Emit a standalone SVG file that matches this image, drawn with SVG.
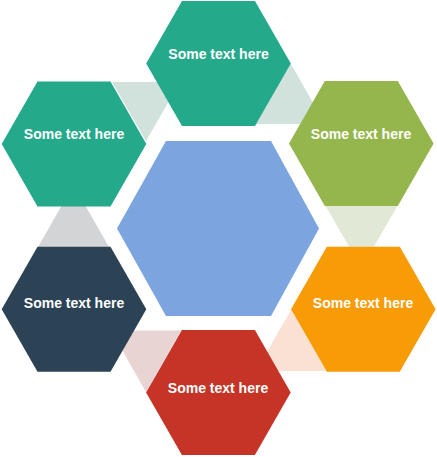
<svg xmlns="http://www.w3.org/2000/svg" xmlns:xlink="http://www.w3.org/1999/xlink" width="437" height="457" viewBox="0 0 437 457">
  <style>
    .lbl { font-family: "Liberation Sans", Arial, sans-serif; font-size: 14px; font-weight: bold; fill: #ffffff; text-anchor: middle; }
    .teal { fill: #25a98b; }
    .green { fill: #95b64c; }
    .orange { fill: #f79b07; }
    .navy { fill: #2c4255; }
    .red { fill: #c53426; }
    .blue { fill: #7ca5df; }
  </style>
  <defs>
    <polygon id="hex" points="-36.5,-62.5 36.5,-62.5 72.3,0 36.5,62.5 -36.5,62.5 -72.3,0"/>
  </defs>
  <rect width="437" height="457" fill="#ffffff"/>
  <g id="connectors">
    <polygon points="112,82 180,82 146,141" fill="#d1e2dd"/>
    <polygon points="256,124 325,124 290.5,63" fill="#d1e2dd"/>
    <polygon points="325,205 398,205 361.5,268" fill="#e1e8d6"/>
    <polygon points="291,310 256,371 326,371" fill="#fae1d4"/>
    <polygon points="111,330.5 181,330.5 146,392" fill="#e9d4d4"/>
    <polygon points="38,247 109,247 73.5,185" fill="#d3d4d6"/>
  </g>
  <g id="center">
    <polygon class="blue" points="166,141 271,141 319,228.5 271,316 166,316 117,228.5"/>
  </g>
  <g id="node-top">
    <use xlink:href="#hex" href="#hex" class="teal" transform="translate(218.5,63.5)"/>
    <text class="lbl" x="218.5" y="58.5">Some text here</text>
  </g>
  <g id="node-top-left">
    <use xlink:href="#hex" href="#hex" class="teal" transform="translate(74,144)"/>
    <text class="lbl" x="74" y="139">Some text here</text>
  </g>
  <g id="node-top-right">
    <use xlink:href="#hex" href="#hex" class="green" transform="translate(361.3,143.5)"/>
    <text class="lbl" x="361" y="139">Some text here</text>
  </g>
  <g id="node-bottom-left">
    <use xlink:href="#hex" href="#hex" class="navy" transform="translate(74,309.2)"/>
    <text class="lbl" x="74" y="307.5">Some text here</text>
  </g>
  <g id="node-bottom-right">
    <use xlink:href="#hex" href="#hex" class="orange" transform="translate(363.3,309.2)"/>
    <text class="lbl" x="363" y="307.5">Some text here</text>
  </g>
  <g id="node-bottom">
    <use xlink:href="#hex" href="#hex" class="red" transform="translate(218.4,392.6)"/>
    <text class="lbl" x="218" y="392.5">Some text here</text>
  </g>
</svg>
